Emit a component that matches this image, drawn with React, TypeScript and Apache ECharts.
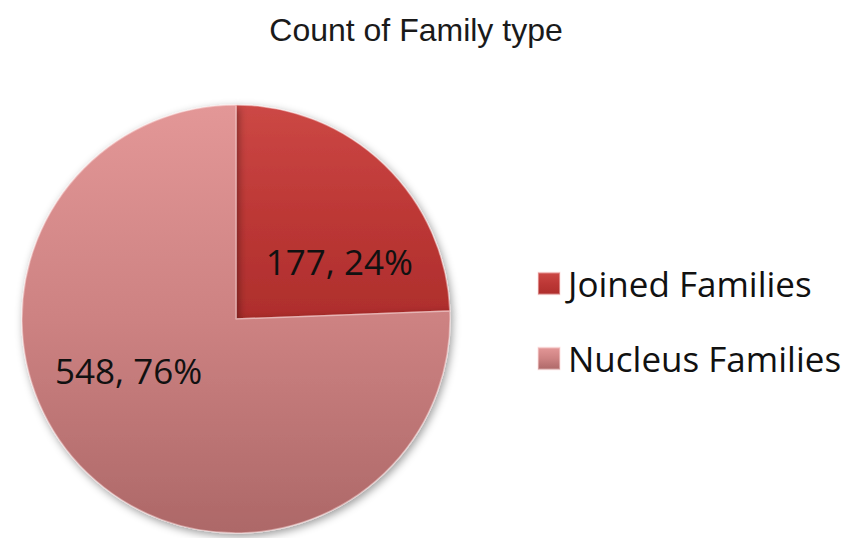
import React, { useEffect, useRef } from "react";
import * as echarts from "echarts";

const titleText = "Count of Family type";
const categories = ["Joined Families", "Nucleus Families"];
const counts = [177, 548];

const sliceColors = [
  ["#cc4845", "#bd3836", "#ae2e2c"],
  ["#e39797", "#cd8282", "#ad6868"],
];
const labelShift = [
  [27, 22],
  [-31, -28],
];

export default function App() {
  const ref = useRef<HTMLDivElement>(null);
  useEffect(() => {
    document.body.style.margin = "0";
    const chart = echarts.init(ref.current!, undefined, { renderer: "svg" });
    const grad = (c: string[]) =>
      new echarts.graphic.LinearGradient(0, 0, 0, 1, [
        { offset: 0, color: c[0] },
        { offset: 0.5, color: c[1] },
        { offset: 1, color: c[2] },
      ]);
    chart.setOption({
      animation: false,
      backgroundColor: "#ffffff",
      title: {
        text: titleText,
        left: 411,
        top: 9,
        textAlign: "center",
        textStyle: {
          fontFamily: "Liberation Sans",
          fontSize: 32,
          fontWeight: "normal",
          color: "#1a1a1a",
        },
      },
      legend: {
        orient: "vertical",
        left: 532,
        top: 261,
        itemWidth: 22,
        itemHeight: 22,
        itemGap: 40,
        icon: "rect",
        textStyle: {
          fontFamily: "Open Sans",
          fontSize: 35,
          color: "#111",
          padding: [0, 0, 0, 3],
        },
        data: categories,
      },
      series: [
        {
          type: "pie",
          center: [236, 319],
          radius: 214,
          startAngle: 90,
          clockwise: true,
          percentPrecision: 0,
          silent: true,
          itemStyle: {
            borderColor: "rgba(255,225,225,0.45)",
            borderWidth: 1.5,
            shadowBlur: 8,
            shadowColor: "rgba(0,0,0,0.4)",
            shadowOffsetX: 2,
            shadowOffsetY: 3,
          },
          label: {
            show: true,
            position: "inside",
            formatter: "{c}, {d}%",
            fontFamily: "Open Sans",
            fontSize: 35,
            color: "#111",
          },
          labelLine: { show: false },
          labelLayout: (p: any) => ({
            dx: labelShift[p.dataIndex][0],
            dy: labelShift[p.dataIndex][1],
          }),
          data: categories.map((name, i) => ({
            name,
            value: counts[i],
            itemStyle: { color: grad(sliceColors[i]) },
          })),
        },
      ],
    });
    return () => chart.dispose();
  }, []);
  return <div ref={ref} style={{ width: 850, height: 538 }} />;
}
